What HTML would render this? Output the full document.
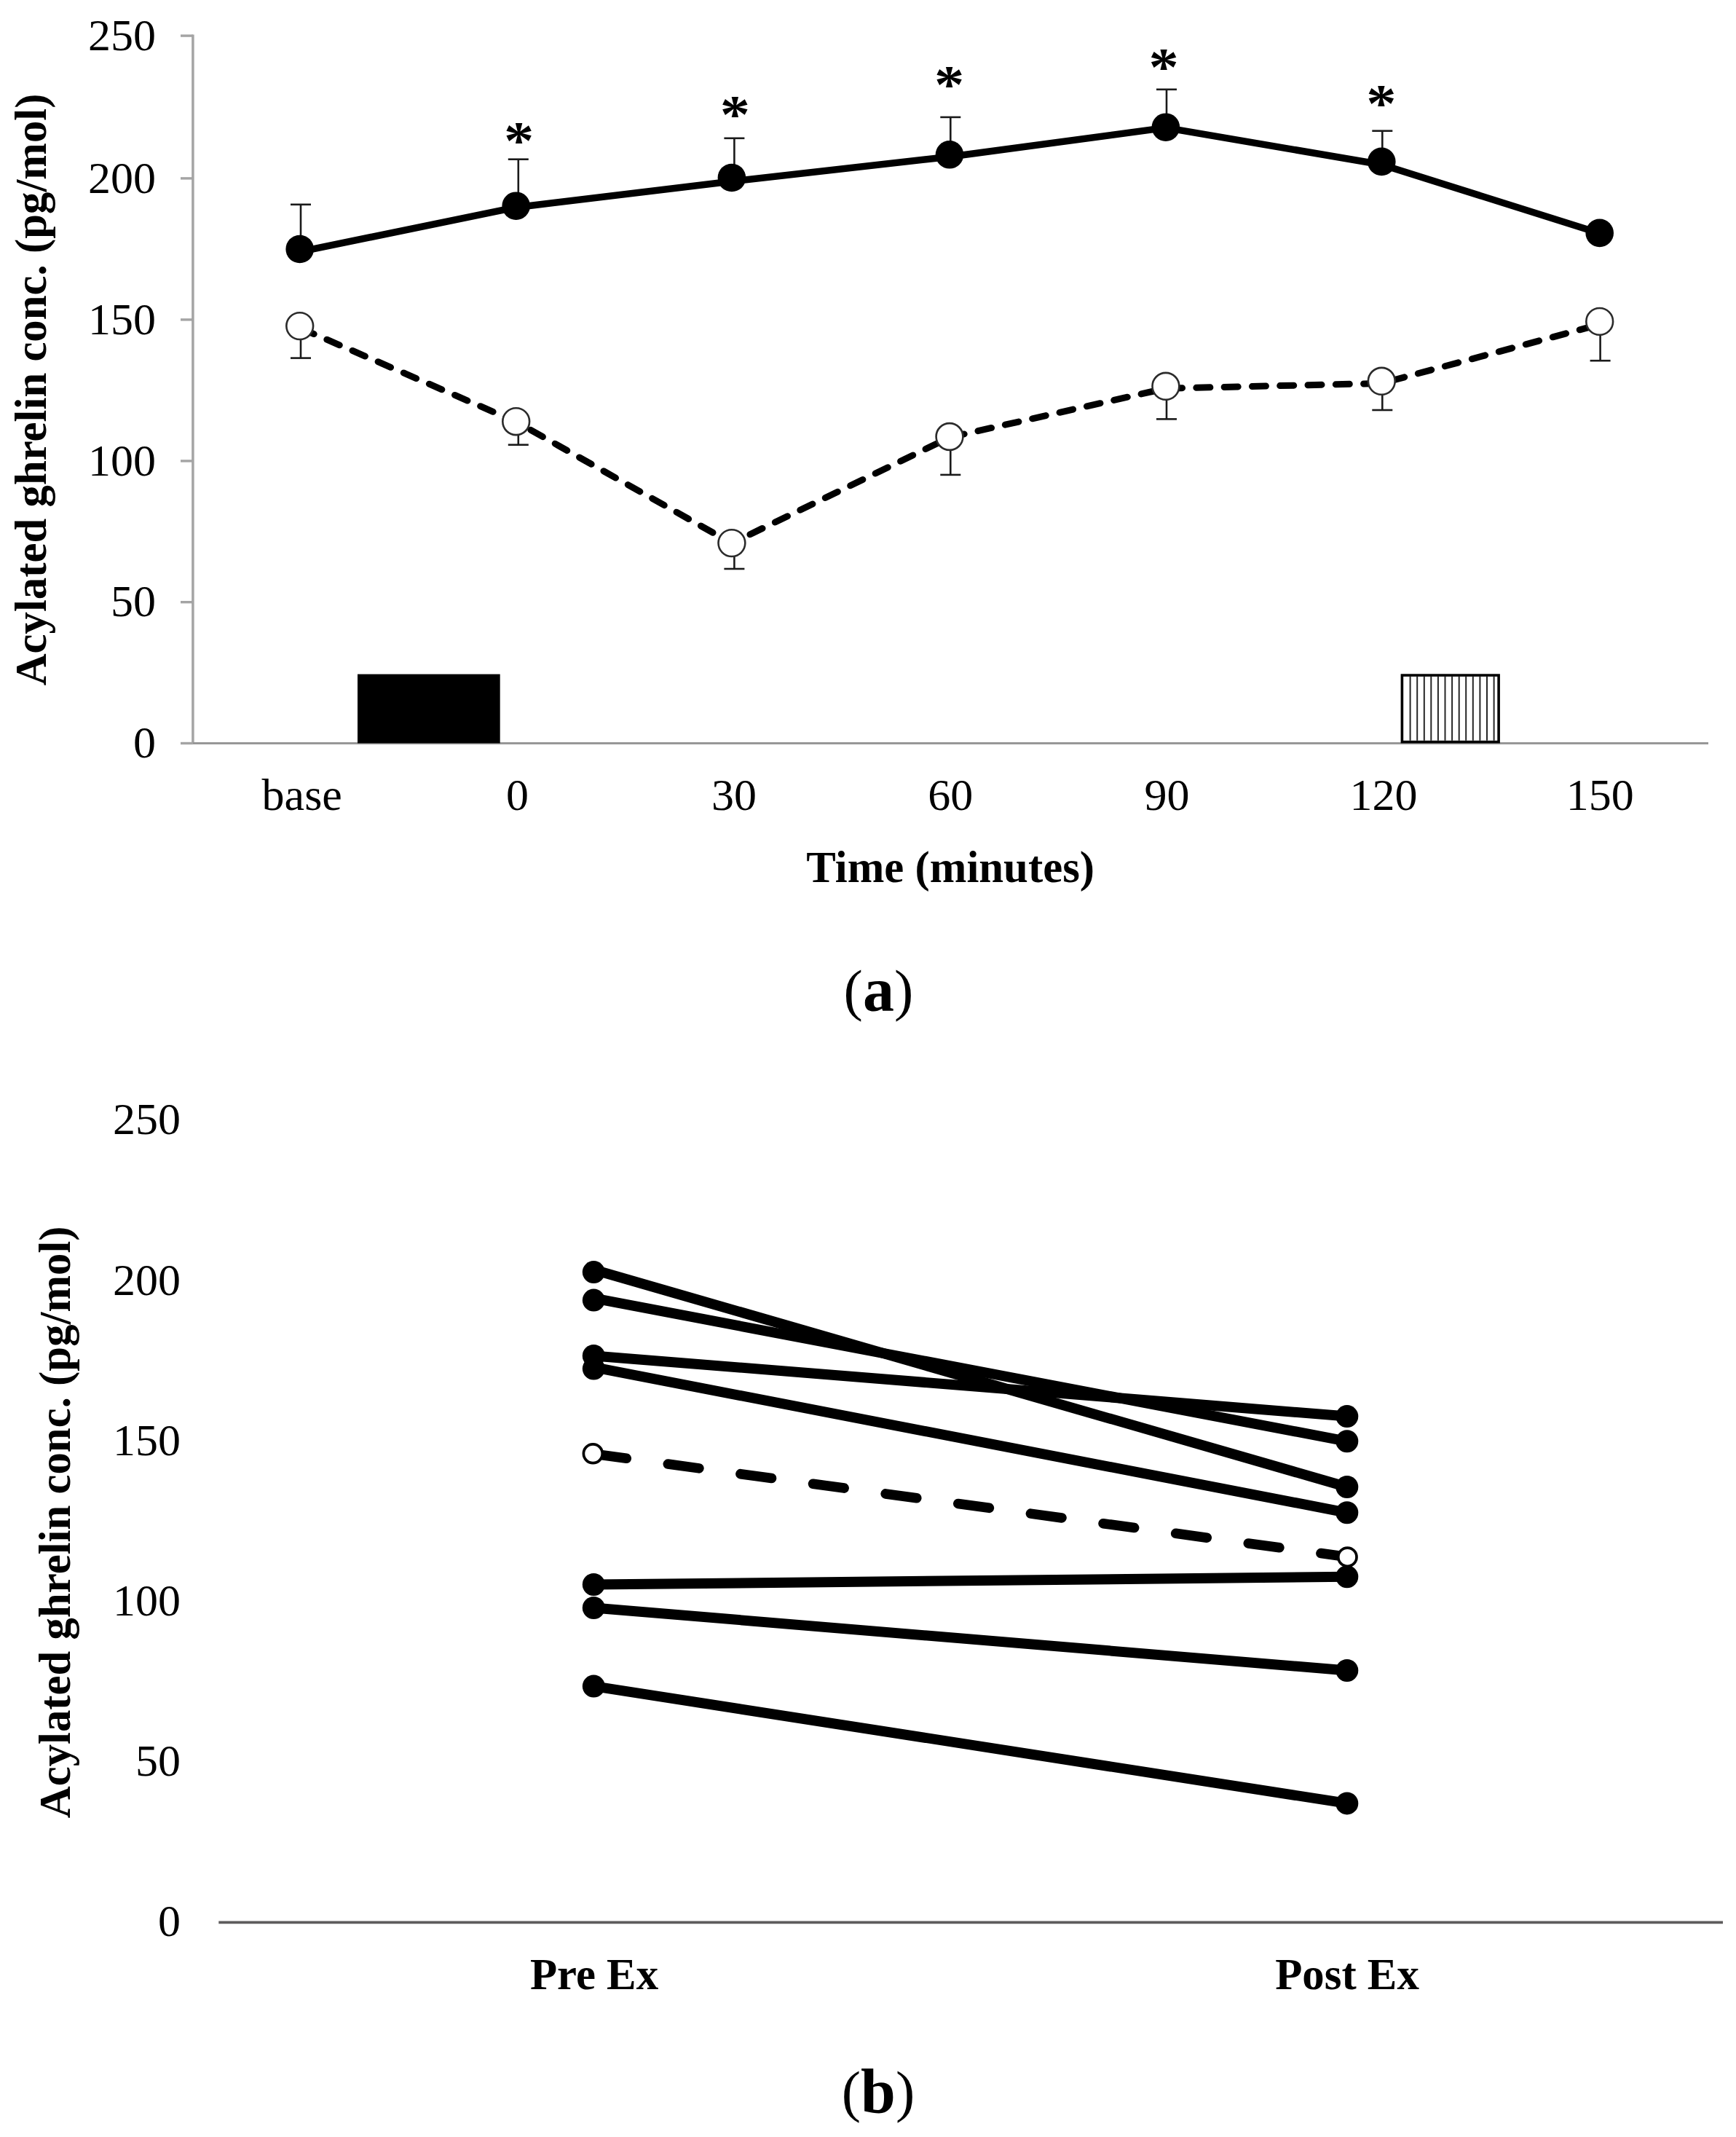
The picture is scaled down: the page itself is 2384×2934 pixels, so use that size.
<!DOCTYPE html>
<html><head><meta charset="utf-8"><title>Acylated ghrelin concentration</title>
<style>
html,body{margin:0;padding:0;background:#fff;}
svg{display:block;}
text{font-family:'Liberation Serif', 'Times New Roman', serif;fill:#000;}
.n{font-size:62px;}
.b{font-size:60.8px;font-weight:bold;}
.ast{font-size:73px;font-weight:bold;}
.lab{font-size:79px;}
</style></head>
<body>
<svg width="2384" height="2934" viewBox="0 0 2384 2934">
<rect width="2384" height="2934" fill="#fff"/>
<line x1="264.9" y1="47.4" x2="264.9" y2="1020.5" stroke="#a4a4a4" stroke-width="3.5"/>
<line x1="248" y1="1020.5" x2="264.9" y2="1020.5" stroke="#a4a4a4" stroke-width="3.4"/>
<text x="214" y="1040.1" text-anchor="end" class="n">0</text>
<line x1="248" y1="826.7" x2="264.9" y2="826.7" stroke="#a4a4a4" stroke-width="3.4"/>
<text x="214" y="846.3" text-anchor="end" class="n">50</text>
<line x1="248" y1="632.9" x2="264.9" y2="632.9" stroke="#a4a4a4" stroke-width="3.4"/>
<text x="214" y="652.5" text-anchor="end" class="n">100</text>
<line x1="248" y1="438.9" x2="264.9" y2="438.9" stroke="#a4a4a4" stroke-width="3.4"/>
<text x="214" y="458.5" text-anchor="end" class="n">150</text>
<line x1="248" y1="244.9" x2="264.9" y2="244.9" stroke="#a4a4a4" stroke-width="3.4"/>
<text x="214" y="264.5" text-anchor="end" class="n">200</text>
<line x1="248" y1="49.1" x2="264.9" y2="49.1" stroke="#a4a4a4" stroke-width="3.4"/>
<text x="214" y="68.7" text-anchor="end" class="n">250</text>
<line x1="264.9" y1="1020.5" x2="2346" y2="1020.5" stroke="#979797" stroke-width="2.9"/>
<text x="414.7" y="1111.5" text-anchor="middle" class="n">base</text>
<text x="710.5" y="1111.5" text-anchor="middle" class="n">0</text>
<text x="1007.9" y="1111.5" text-anchor="middle" class="n">30</text>
<text x="1305.2" y="1111.5" text-anchor="middle" class="n">60</text>
<text x="1602.6" y="1111.5" text-anchor="middle" class="n">90</text>
<text x="1899.9" y="1111.5" text-anchor="middle" class="n">120</text>
<text x="2197.3" y="1111.5" text-anchor="middle" class="n">150</text>
<text x="1305.2" y="1211" text-anchor="middle" class="b">Time (minutes)</text>
<text transform="translate(62.6,534.9) rotate(-90)" text-anchor="middle" class="b">Acylated ghrelin conc. (pg/mol)</text>
<rect x="491" y="925.6" width="195.7" height="94.8" fill="#000"/>
<rect x="1925.4" y="927.1" width="132.7" height="91.5" fill="#fff" stroke="#000" stroke-width="3.6"/>
<line x1="1936.6" y1="928.9" x2="1936.6" y2="1016.8" stroke="#262626" stroke-width="2"/>
<line x1="1946.2" y1="928.9" x2="1946.2" y2="1016.8" stroke="#262626" stroke-width="2"/>
<line x1="1955.8" y1="928.9" x2="1955.8" y2="1016.8" stroke="#262626" stroke-width="2"/>
<line x1="1965.3" y1="928.9" x2="1965.3" y2="1016.8" stroke="#262626" stroke-width="2"/>
<line x1="1974.9" y1="928.9" x2="1974.9" y2="1016.8" stroke="#262626" stroke-width="2"/>
<line x1="1984.5" y1="928.9" x2="1984.5" y2="1016.8" stroke="#262626" stroke-width="2"/>
<line x1="1994.1" y1="928.9" x2="1994.1" y2="1016.8" stroke="#262626" stroke-width="2"/>
<line x1="2003.7" y1="928.9" x2="2003.7" y2="1016.8" stroke="#262626" stroke-width="2"/>
<line x1="2013.2" y1="928.9" x2="2013.2" y2="1016.8" stroke="#262626" stroke-width="2"/>
<line x1="2022.8" y1="928.9" x2="2022.8" y2="1016.8" stroke="#262626" stroke-width="2"/>
<line x1="2032.4" y1="928.9" x2="2032.4" y2="1016.8" stroke="#262626" stroke-width="2"/>
<line x1="2042.0" y1="928.9" x2="2042.0" y2="1016.8" stroke="#262626" stroke-width="2"/>
<line x1="2051.6" y1="928.9" x2="2051.6" y2="1016.8" stroke="#262626" stroke-width="2"/>
<line x1="413.0" y1="280.8" x2="413.0" y2="342.0" stroke="#1a1a1a" stroke-width="2.6"/>
<line x1="399.0" y1="280.8" x2="427.0" y2="280.8" stroke="#1a1a1a" stroke-width="2.6"/>
<line x1="413.0" y1="447.6" x2="413.0" y2="491.6" stroke="#1a1a1a" stroke-width="2.6"/>
<line x1="399.0" y1="491.6" x2="427.0" y2="491.6" stroke="#1a1a1a" stroke-width="2.6"/>
<line x1="711.8" y1="218.7" x2="711.8" y2="282.7" stroke="#1a1a1a" stroke-width="2.6"/>
<line x1="697.8" y1="218.7" x2="725.8" y2="218.7" stroke="#1a1a1a" stroke-width="2.6"/>
<line x1="711.8" y1="578.7" x2="711.8" y2="610.7" stroke="#1a1a1a" stroke-width="2.6"/>
<line x1="697.8" y1="610.7" x2="725.8" y2="610.7" stroke="#1a1a1a" stroke-width="2.6"/>
<line x1="1008.4" y1="189.8" x2="1008.4" y2="244.0" stroke="#1a1a1a" stroke-width="2.6"/>
<line x1="994.4" y1="189.8" x2="1022.4" y2="189.8" stroke="#1a1a1a" stroke-width="2.6"/>
<line x1="1008.4" y1="745.6" x2="1008.4" y2="781.0" stroke="#1a1a1a" stroke-width="2.6"/>
<line x1="994.4" y1="781.0" x2="1022.4" y2="781.0" stroke="#1a1a1a" stroke-width="2.6"/>
<line x1="1305.3" y1="160.9" x2="1305.3" y2="212.3" stroke="#1a1a1a" stroke-width="2.6"/>
<line x1="1291.3" y1="160.9" x2="1319.3" y2="160.9" stroke="#1a1a1a" stroke-width="2.6"/>
<line x1="1305.3" y1="599.5" x2="1305.3" y2="651.9" stroke="#1a1a1a" stroke-width="2.6"/>
<line x1="1291.3" y1="651.9" x2="1319.3" y2="651.9" stroke="#1a1a1a" stroke-width="2.6"/>
<line x1="1602.0" y1="122.8" x2="1602.0" y2="174.7" stroke="#1a1a1a" stroke-width="2.6"/>
<line x1="1588.0" y1="122.8" x2="1616.0" y2="122.8" stroke="#1a1a1a" stroke-width="2.6"/>
<line x1="1602.0" y1="530.3" x2="1602.0" y2="575.4" stroke="#1a1a1a" stroke-width="2.6"/>
<line x1="1588.0" y1="575.4" x2="1616.0" y2="575.4" stroke="#1a1a1a" stroke-width="2.6"/>
<line x1="1898.3" y1="179.7" x2="1898.3" y2="221.9" stroke="#1a1a1a" stroke-width="2.6"/>
<line x1="1884.3" y1="179.7" x2="1912.3" y2="179.7" stroke="#1a1a1a" stroke-width="2.6"/>
<line x1="1898.3" y1="523.3" x2="1898.3" y2="563.0" stroke="#1a1a1a" stroke-width="2.6"/>
<line x1="1884.3" y1="563.0" x2="1912.3" y2="563.0" stroke="#1a1a1a" stroke-width="2.6"/>
<line x1="2197.6" y1="441.4" x2="2197.6" y2="495.2" stroke="#1a1a1a" stroke-width="2.6"/>
<line x1="2183.6" y1="495.2" x2="2211.6" y2="495.2" stroke="#1a1a1a" stroke-width="2.6"/>
<polyline points="411.7,345.6 708.7,284.7 1004.9,249.0 1304.0,215.2 1600.9,175.4 1897.3,226.0 2196.7,320.2" fill="none" stroke="#000" stroke-width="9.5" stroke-linejoin="round"/>
<polyline points="411.7,450.1 708.7,579.0 1004.9,745.9 1304.0,600.5 1600.9,533.3 1897.3,526.3 2196.7,445.4" fill="none" stroke="#000" stroke-width="9" stroke-linecap="round" stroke-linejoin="round" stroke-dasharray="19 19.3" stroke-dashoffset="-2.2"/>
<circle cx="411.7" cy="342.0" r="19.3" fill="#000"/>
<circle cx="411.7" cy="447.6" r="18.4" fill="#fff" stroke="#2b2b2b" stroke-width="2.6"/>
<circle cx="708.7" cy="282.7" r="19.3" fill="#000"/>
<circle cx="708.7" cy="578.7" r="18.4" fill="#fff" stroke="#2b2b2b" stroke-width="2.6"/>
<circle cx="1004.9" cy="244.0" r="19.3" fill="#000"/>
<circle cx="1004.9" cy="745.6" r="18.4" fill="#fff" stroke="#2b2b2b" stroke-width="2.6"/>
<circle cx="1304.0" cy="212.3" r="19.3" fill="#000"/>
<circle cx="1304.0" cy="599.5" r="18.4" fill="#fff" stroke="#2b2b2b" stroke-width="2.6"/>
<circle cx="1600.9" cy="174.7" r="19.3" fill="#000"/>
<circle cx="1600.9" cy="530.3" r="18.4" fill="#fff" stroke="#2b2b2b" stroke-width="2.6"/>
<circle cx="1897.3" cy="221.9" r="19.3" fill="#000"/>
<circle cx="1897.3" cy="523.3" r="18.4" fill="#fff" stroke="#2b2b2b" stroke-width="2.6"/>
<circle cx="2196.7" cy="319.9" r="19.3" fill="#000"/>
<circle cx="2196.7" cy="441.4" r="18.4" fill="#fff" stroke="#2b2b2b" stroke-width="2.6"/>
<text transform="translate(712.7,217.5) scale(1.13,1)" text-anchor="middle" class="ast">*</text>
<text transform="translate(1009.4,181.9) scale(1.13,1)" text-anchor="middle" class="ast">*</text>
<text transform="translate(1303.6,141.2) scale(1.13,1)" text-anchor="middle" class="ast">*</text>
<text transform="translate(1598.0,117.0) scale(1.13,1)" text-anchor="middle" class="ast">*</text>
<text transform="translate(1896.8,167.3) scale(1.13,1)" text-anchor="middle" class="ast">*</text>
<text x="1206.4" y="1387.7" text-anchor="middle" class="lab"><tspan dy="-2">(</tspan><tspan dy="2" font-weight="bold" font-size="86px">a</tspan><tspan dy="-2">)</tspan></text>
<text x="248" y="2658.0" text-anchor="end" class="n">0</text>
<text x="248" y="2437.9" text-anchor="end" class="n">50</text>
<text x="248" y="2217.8" text-anchor="end" class="n">100</text>
<text x="248" y="1997.6" text-anchor="end" class="n">150</text>
<text x="248" y="1777.5" text-anchor="end" class="n">200</text>
<text x="248" y="1557.4" text-anchor="end" class="n">250</text>
<line x1="300.3" y1="2639.4" x2="2366" y2="2639.4" stroke="#5e5c5d" stroke-width="3.8"/>
<text transform="translate(96,2089.8) rotate(-90)" text-anchor="middle" class="b">Acylated ghrelin conc. (pg/mol)</text>
<text x="816" y="2730.6" text-anchor="middle" class="b">Pre Ex</text>
<text x="1850" y="2730.6" text-anchor="middle" class="b">Post Ex</text>
<text x="1206" y="2899.5" text-anchor="middle" class="lab"><tspan dy="-2">(</tspan><tspan dy="2" font-weight="bold" font-size="86px">b</tspan><tspan dy="-2">)</tspan></text>
<line x1="815.3" y1="1743.3" x2="1849.8" y2="2041.5" stroke="#000" stroke-width="14"/>
<line x1="815.3" y1="1782.4" x2="1849.8" y2="1978.8" stroke="#000" stroke-width="14"/>
<line x1="815.3" y1="1861.4" x2="1849.8" y2="1944.6" stroke="#000" stroke-width="14"/>
<line x1="815.3" y1="1877.2" x2="1849.8" y2="2076.8" stroke="#000" stroke-width="14"/>
<line x1="815.3" y1="2175.5" x2="1849.8" y2="2164.8" stroke="#000" stroke-width="14"/>
<line x1="815.3" y1="2207.5" x2="1849.8" y2="2293.5" stroke="#000" stroke-width="14"/>
<line x1="815.3" y1="2315.1" x2="1849.8" y2="2475.9" stroke="#000" stroke-width="14"/>
<line x1="815.3" y1="1996.1" x2="1849.8" y2="2137.5" stroke="#000" stroke-width="13.6" stroke-linecap="round" stroke-dasharray="43 57.55" stroke-dashoffset="-2.4"/>
<circle cx="815.3" cy="1746.6" r="15.5" fill="#000"/>
<circle cx="1849.8" cy="2041.5" r="15.5" fill="#000"/>
<circle cx="815.3" cy="1785.1" r="15.5" fill="#000"/>
<circle cx="1849.8" cy="1978.8" r="15.5" fill="#000"/>
<circle cx="815.3" cy="1861.5" r="15.5" fill="#000"/>
<circle cx="1849.8" cy="1944.6" r="15.5" fill="#000"/>
<circle cx="815.3" cy="1879.1" r="15.5" fill="#000"/>
<circle cx="1849.8" cy="2076.8" r="15.5" fill="#000"/>
<circle cx="815.3" cy="2175.5" r="15.5" fill="#000"/>
<circle cx="1849.8" cy="2164.8" r="15.5" fill="#000"/>
<circle cx="815.3" cy="2207.5" r="15.5" fill="#000"/>
<circle cx="1849.8" cy="2293.5" r="15.5" fill="#000"/>
<circle cx="815.3" cy="2315.1" r="15.5" fill="#000"/>
<circle cx="1849.8" cy="2475.9" r="15.5" fill="#000"/>
<circle cx="814.3" cy="1995.8" r="12.9" fill="#fff" stroke="#000" stroke-width="3.7"/>
<circle cx="1850.4" cy="2137.7" r="12.6" fill="#fff" stroke="#000" stroke-width="3.7"/>
</svg>
</body></html>
